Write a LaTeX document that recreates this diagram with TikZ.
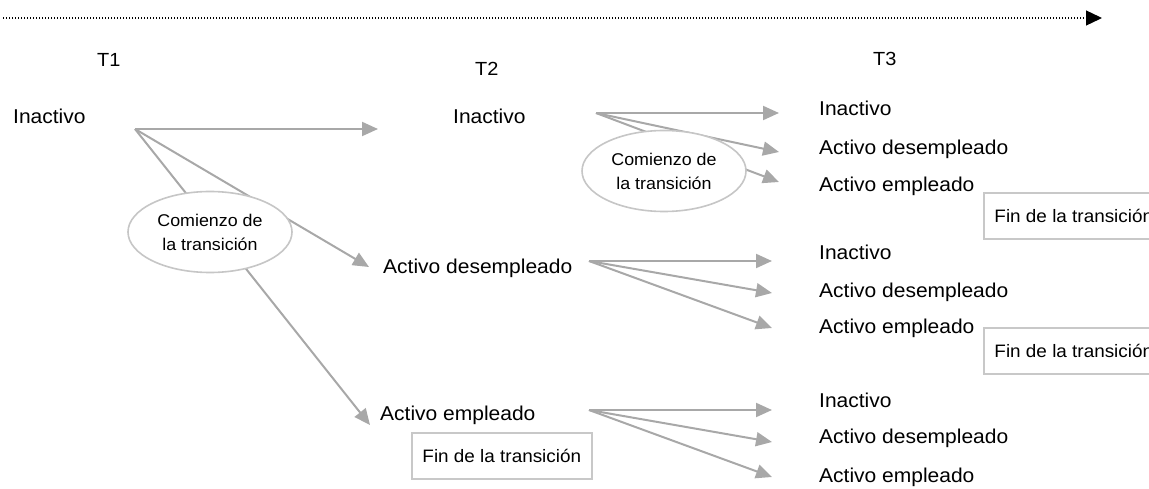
\documentclass[tikz,border=0pt]{standalone}
\usepackage{fontspec}
\setmainfont{Liberation Sans}[FakeStretch=1.05]
\usetikzlibrary{arrows.meta,shapes.geometric}
\definecolor{arrgray}{RGB}{168,168,168}
\definecolor{ellgray}{RGB}{198,198,198}
\definecolor{boxgray}{RGB}{200,200,200}
\tikzset{
  lbl/.style={anchor=base west, inner sep=0pt, font=\fontsize{20}{24}\selectfont},
  tlbl/.style={anchor=base west, inner sep=0pt, font=\fontsize{19}{23}\selectfont},
  flow/.style={draw=arrgray, line width=2pt, -{Triangle[length=16pt,width=14pt]}, color=arrgray},
  startell/.style={ellipse, draw=ellgray, line width=1.6pt, fill=white,
     minimum width=164pt, minimum height=81pt, inner sep=0pt, align=center,
     font=\fontsize{17}{24}\selectfont},
  finbox/.style={draw=boxgray, line width=1.6pt, fill=white, anchor=north west,
     minimum width=180pt, minimum height=46pt, inner sep=0pt,
     font=\fontsize{18}{22}\selectfont},
  timeline/.style={draw=black, line width=1.3pt, dash pattern=on 1.3pt off 1.7pt,
     -{Triangle[length=16pt,width=15pt]}}
}
\begin{document}
\begin{tikzpicture}[x=1pt,y=-1pt]
\useasboundingbox (0,0) rectangle (1149,489);
% time axis
\coordinate (axs) at (3,18);
\coordinate (axe) at (1102,18);
\draw[timeline] (axs) -- (axe);
% time labels
\node[tlbl] (T1) at (97,67) {T1};
\node[tlbl] (T2) at (475,76) {T2};
\node[tlbl] (T3) at (873,66) {T3};
% T1
\node[lbl] (a1) at (13,124) {Inactivo};
% T2
\node[lbl] (b1) at (453,124) {Inactivo};
\node[lbl] (b2) at (383,273) {Activo desempleado};
\node[lbl] (b3) at (380,420) {Activo empleado};
% T3
\node[lbl] (c11) at (819,116) {Inactivo};
\node[lbl] (c12) at (819,155) {Activo desempleado};
\node[lbl] (c13) at (819,192) {Activo empleado};
\node[lbl] (c21) at (819,260) {Inactivo};
\node[lbl] (c22) at (819,298) {Activo desempleado};
\node[lbl] (c23) at (819,333) {Activo empleado};
\node[lbl] (c31) at (819,407) {Inactivo};
\node[lbl] (c32) at (819,443) {Activo desempleado};
\node[lbl] (c33) at (819,482) {Activo empleado};
% origins and tips
\coordinate (o1) at (135,129);
\coordinate (t1a) at (378,129);
\coordinate (t1b) at (369,267);
\coordinate (t1c) at (370,425);
\coordinate (o2) at (596,113);
\coordinate (t2a) at (779,113);
\coordinate (t2b) at (779,152);
\coordinate (t2c) at (779,182);
\coordinate (o3) at (589,261);
\coordinate (t3a) at (772,261);
\coordinate (t3b) at (772,293);
\coordinate (t3c) at (772,328);
\coordinate (o4) at (589,410);
\coordinate (t4a) at (772,410);
\coordinate (t4b) at (772,442);
\coordinate (t4c) at (772,477);
% connectors
\draw[flow] (o1) -- (t1a);
\draw[flow] (o1) -- (t1b);
\draw[flow] (o1) -- (t1c);
\draw[flow] (o2) -- (t2a);
\draw[flow] (o2) -- (t2b);
\draw[flow] (o2) -- (t2c);
\draw[flow] (o3) -- (t3a);
\draw[flow] (o3) -- (t3b);
\draw[flow] (o3) -- (t3c);
\draw[flow] (o4) -- (t4a);
\draw[flow] (o4) -- (t4b);
\draw[flow] (o4) -- (t4c);
% ellipses
\node[startell] (e1) at (210,232) {Comienzo de\\la transición};
\node[startell] (e2) at (664,171) {Comienzo de\\la transición};
% end boxes
\node[finbox] (f1) at (411,432) {Fin de la transición};
\node[finbox] (f2) at (983,192) {Fin de la transición};
\node[finbox] (f3) at (983,327) {Fin de la transición};
\end{tikzpicture}
\end{document}
